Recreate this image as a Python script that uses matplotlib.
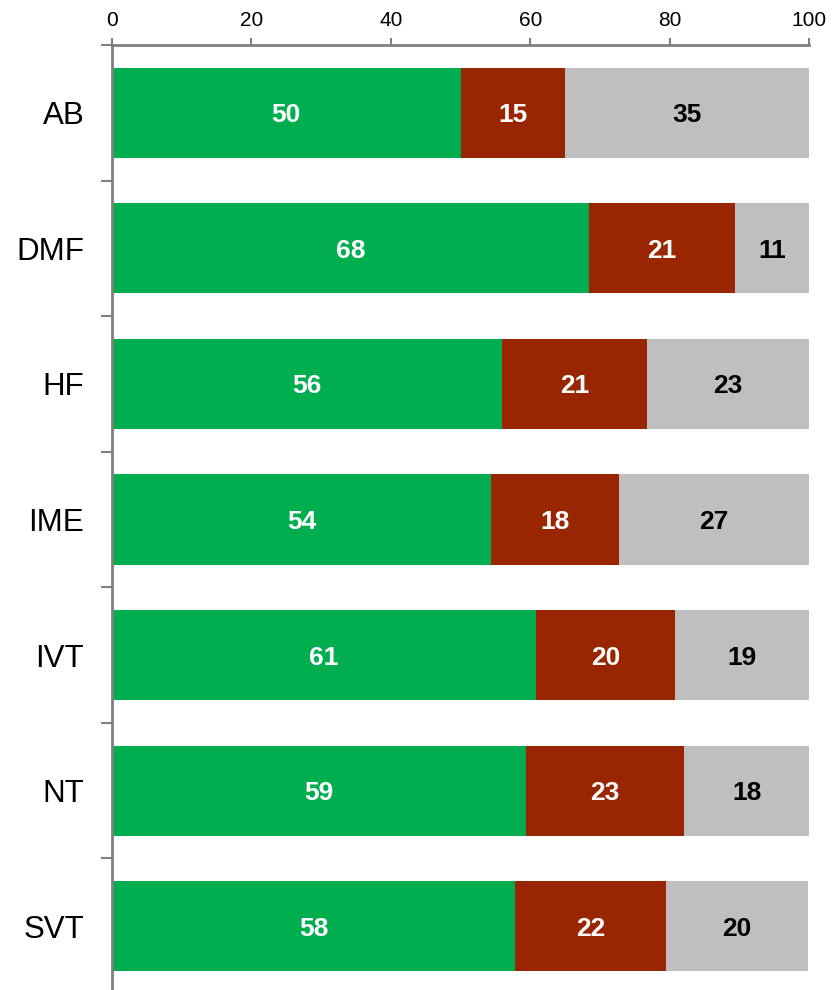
import matplotlib
matplotlib.use("Agg")
import matplotlib.pyplot as plt
import numpy as np

plt.rcParams['font.family'] = ['Liberation Sans', 'DejaVu Sans']

categories = ["AB", "DMF", "HF", "IME", "IVT", "NT", "SVT"]
green_vals = [50.0, 68.4, 55.9, 54.4, 60.8, 59.4, 57.8]
red_vals = [15.0, 21.0, 20.9, 18.3, 20.0, 22.7, 21.7]
gray_vals = [35.0, 10.6, 23.2, 27.3, 19.2, 17.9, 20.4]
green_labels = ["50", "68", "56", "54", "61", "59", "58"]
red_labels = ["15", "21", "21", "18", "20", "23", "22"]
gray_labels = ["35", "11", "23", "27", "19", "18", "20"]
xticks = [0, 20, 40, 60, 80, 100]

fig = plt.figure(figsize=(8.32, 9.9), dpi=100)
ax = fig.add_axes([112/832, 1 - 994/990, (809 - 112)/832, (994 - 45)/990])

y = np.arange(len(categories))
h = 0.664
g = np.array(green_vals)
r = np.array(red_vals)
k = np.array(gray_vals)
ax.barh(y, g, height=h, color="#00AE50")
ax.barh(y, r, left=g, height=h, color="#992600")
ax.barh(y, k, left=g + r, height=h, color="#BFBFBF")

for i in range(len(categories)):
    ax.text(g[i] / 2, y[i], green_labels[i], ha="center", va="center_baseline",
            color="white", fontsize=19, fontweight="bold")
    ax.text(g[i] + r[i] / 2, y[i], red_labels[i], ha="center", va="center_baseline",
            color="white", fontsize=19, fontweight="bold")
    ax.text(g[i] + r[i] + k[i] / 2, y[i], gray_labels[i], ha="center", va="center_baseline",
            color="black", fontsize=19, fontweight="bold")

ax.set_xlim(0, 100)
ax.set_ylim(len(categories) - 0.5, -0.5)
ax.xaxis.tick_top()
ax.set_xticks(xticks)
ax.set_xticklabels([str(v) for v in xticks], fontsize=15)
ax.tick_params(axis="x", direction="out", length=5, width=1.5, color="#808080", pad=6)

ax.set_yticks(y)
ax.set_yticklabels(categories, fontsize=22.5)
ax.tick_params(axis="y", which="major", length=0, pad=20)
ax.set_yticks(np.arange(-0.5, len(categories), 1.0), minor=True)
ax.tick_params(axis="y", which="minor", direction="out", length=8, width=1.5, color="#808080")

for s in ["right", "bottom"]:
    ax.spines[s].set_visible(False)
for s in ["left", "top"]:
    ax.spines[s].set_color("#808080")
    ax.spines[s].set_linewidth(2)

fig.savefig("out.png", dpi=100)
